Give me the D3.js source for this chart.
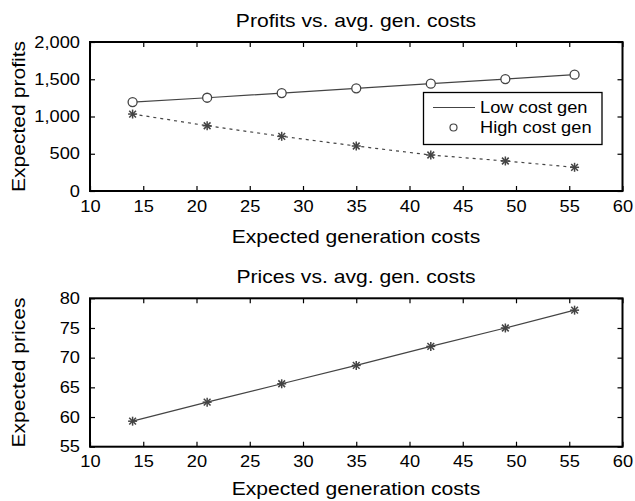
<!DOCTYPE html>
<html>
<head>
<meta charset="utf-8">
<script src="https://cdn.jsdelivr.net/npm/d3@7"></script>
<style>
  body { margin: 0; background: #fff; }
  text { font-family: "Liberation Sans", Arial, Helvetica, sans-serif; fill: #000; }
</style>
</head>
<body>
<div id="chartArea"></div>
<script>
// data
const genCosts = [14, 21, 28, 35, 42, 49, 55.5];
const profitsLow = [1194, 1252, 1315, 1378, 1440, 1503, 1561];   // circles, solid
const profitsHigh = [1033, 876, 734, 604, 483, 403, 318];        // stars, dotted
const prices = [59.3, 62.5, 65.6, 68.7, 71.9, 75.0, 78.0];
const xTicks = [10, 15, 20, 25, 30, 35, 40, 45, 50, 55, 60];
const profitTicks = [0, 500, 1000, 1500, 2000];
const priceTicks = [55, 60, 65, 70, 75, 80];
const legendLabels = ["Low cost gen", "High cost gen"];

const W = 635, H = 501;
const ink = "#444";

const svg = d3.select("#chartArea").append("svg")
  .attr("width", W)
  .attr("height", H);

const x = d3.scaleLinear().domain([10, 60]).range([90, 622.5]);

function star(g, cx, cy, r) {
  const s = g.append("g").attr("transform", `translate(${cx},${cy})`)
    .attr("stroke", ink).attr("stroke-width", 1.5);
  s.append("line").attr("x1", -r).attr("x2", r).attr("y1", 0).attr("y2", 0);
  s.append("line").attr("x1", 0).attr("x2", 0).attr("y1", -r).attr("y2", r);
  const d = r * 0.75;
  s.append("line").attr("x1", -d).attr("x2", d).attr("y1", -d).attr("y2", d);
  s.append("line").attr("x1", -d).attr("x2", d).attr("y1", d).attr("y2", -d);
}

// one panel: box, inward ticks on all sides, labels
function panel(y, ticks, fmt, title, ylabel, top, bottom, xlabelY) {
  const g = svg.append("g");
  const left = x.range()[0], right = x.range()[1];

  g.append("g").attr("transform", `translate(0,${bottom})`)
    .call(d3.axisBottom(x).tickValues(xTicks).tickSizeInner(-5).tickSizeOuter(0).tickPadding(12))
    .call(a => a.selectAll("text").attr("font-size", 16).attr("dy", "0.55em"));
  g.append("g").attr("transform", `translate(0,${top})`)
    .call(d3.axisTop(x).tickValues(xTicks).tickSizeInner(-5).tickSizeOuter(0).tickFormat(""));
  g.append("g").attr("transform", `translate(${left},0)`)
    .call(d3.axisLeft(y).tickValues(ticks).tickFormat(fmt).tickSizeInner(-5).tickSizeOuter(0).tickPadding(10))
    .call(a => a.selectAll("text").attr("font-size", 16));
  g.append("g").attr("transform", `translate(${right},0)`)
    .call(d3.axisRight(y).tickValues(ticks).tickSizeInner(-5).tickSizeOuter(0).tickFormat(""));
  g.selectAll(".domain").remove();
  g.selectAll(".tick line").attr("stroke", "#000").attr("stroke-width", 1.2);
  g.selectAll(".tick text").attr("fill", "#000");

  g.append("rect")
    .attr("x", left).attr("y", top)
    .attr("width", right - left).attr("height", bottom - top)
    .attr("fill", "none").attr("stroke", "#000").attr("stroke-width", 2);

  g.append("text").attr("x", 356).attr("y", top - 15)
    .attr("text-anchor", "middle").attr("font-size", 18.5).text(title);
  g.append("text").attr("x", 356).attr("y", xlabelY)
    .attr("text-anchor", "middle").attr("font-size", 18.5).text("Expected generation costs");
  g.append("text")
    .attr("transform", `translate(25,${(top + bottom) / 2}) rotate(-90)`)
    .attr("text-anchor", "middle").attr("font-size", 18.5).text(ylabel);
  return g;
}

// ---------- top: profits ----------
const yP = d3.scaleLinear().domain([0, 2000]).range([191, 42]);
const gTop = panel(yP, profitTicks, d3.format(","), "Profits vs. avg. gen. costs", "Expected profits", 42, 191, 243);

const lineP = d3.line().x((d, i) => x(genCosts[i])).y(d => yP(d));
gTop.append("path").datum(profitsLow)
  .attr("d", lineP).attr("fill", "none").attr("stroke", ink).attr("stroke-width", 1.2);
gTop.append("path").datum(profitsHigh)
  .attr("d", lineP).attr("fill", "none").attr("stroke", ink).attr("stroke-width", 1.2)
  .attr("stroke-dasharray", "3,4");
gTop.selectAll("circle.mk").data(profitsLow).enter().append("circle")
  .attr("class", "mk")
  .attr("cx", (d, i) => x(genCosts[i])).attr("cy", d => yP(d)).attr("r", 4.5)
  .attr("fill", "#fff").attr("stroke", ink).attr("stroke-width", 1.3);
profitsHigh.forEach((d, i) => star(gTop, x(genCosts[i]), yP(d), 4.5));

// legend
const lg = gTop.append("g");
lg.append("rect").attr("x", 423.5).attr("y", 92.5).attr("width", 178.5).attr("height", 52)
  .attr("fill", "#fff").attr("stroke", "#000").attr("stroke-width", 1.3);
lg.append("line").attr("x1", 433).attr("x2", 475).attr("y1", 107.5).attr("y2", 107.5)
  .attr("stroke", ink).attr("stroke-width", 1.2);
lg.append("circle").attr("cx", 453.5).attr("cy", 127.5).attr("r", 3.5)
  .attr("fill", "#fff").attr("stroke", ink).attr("stroke-width", 1.2);
lg.selectAll("text").data(legendLabels).enter().append("text")
  .attr("x", 480).attr("y", (d, i) => 113 + i * 20)
  .attr("font-size", 16).text(d => d);

// ---------- bottom: prices ----------
const yR = d3.scaleLinear().domain([55, 80]).range([446.7, 298.3]);
const gBot = panel(yR, priceTicks, d3.format("d"), "Prices vs. avg. gen. costs", "Expected prices", 298.3, 446.7, 495);

gBot.append("path").datum(prices)
  .attr("d", d3.line().x((d, i) => x(genCosts[i])).y(d => yR(d)))
  .attr("fill", "none").attr("stroke", ink).attr("stroke-width", 1.2);
prices.forEach((d, i) => star(gBot, x(genCosts[i]), yR(d), 4.5));

// the reference glyphs are a bit wider than Arial: stretch all text
svg.selectAll("text").each(function () {
  const w = this.getComputedTextLength();
  if (w > 0) d3.select(this).attr("textLength", w * 1.14).attr("lengthAdjust", "spacingAndGlyphs");
});
</script>
</body>
</html>
